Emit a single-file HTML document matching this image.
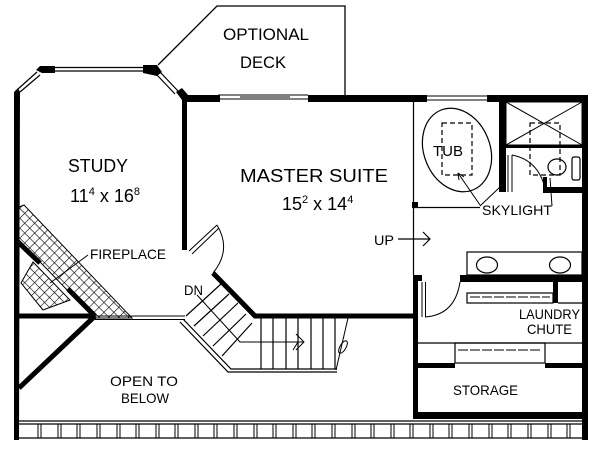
<!DOCTYPE html>
<html><head><meta charset="utf-8"><style>
html,body{margin:0;padding:0;background:#fff;}
svg{display:block;}
text{font-family:"Liberation Sans",sans-serif;fill:#000;}
</style></head><body>
<svg width="600" height="452" viewBox="0 0 600 452" xmlns="http://www.w3.org/2000/svg">
<defs>
<pattern id="hatch" width="7" height="7" patternUnits="userSpaceOnUse" patternTransform="rotate(45)">
<rect width="7" height="7" fill="#fff"/>
<path d="M0 0H7M0 0V7" stroke="#000" stroke-width="1.2"/>
</pattern>
</defs>
<g fill="none" stroke="#000">
<polyline points="158,65 217,6 345,6 345,95" stroke-width="1.3"/>
<path d="M55,67.5H143M55,71H143" stroke-width="1.2"/>
<path d="M37,72L18,89M40,75L20,92" stroke-width="1.2"/>
<path d="M160,72L178,91M157,75L175,94" stroke-width="1.2"/>
<path d="M218,95H308M218,99H308M240,97H290" stroke-width="1"/>
<path d="M427,96H487M427,100H487" stroke-width="1"/>
</g>
<g fill="#000">
<polygon points="40,66 55,66 55,73 42,73 36,70"/>
<polygon points="143,65 157,65 162,72 157,76 143,73"/>
<polygon points="176,92 182,88 188,95 220,95 220,102 187,102 187,250 182,250 182,100"/>
<rect x="308" y="95" width="119" height="7"/>
<rect x="487" y="95" width="101" height="7"/>
<polygon points="14,92 18,88 20,92 19,440 14,440"/>
<rect x="582" y="95" width="6" height="345"/>
</g>
<g fill="none" stroke="#000">
<line x1="413.5" y1="102" x2="413.5" y2="275" stroke-width="1.2"/>
<line x1="413" y1="207.5" x2="480" y2="207.5" stroke-width="1.2"/>
<line x1="480" y1="206" x2="500" y2="187" stroke-width="1"/>
<rect x="506" y="102" width="76" height="43" stroke-width="1"/>
<path d="M506,102L582,145M582,102L506,145" stroke-width="1"/>
<ellipse cx="457" cy="150" rx="33" ry="43" transform="rotate(-22 457 150)" stroke-width="1.2"/>
<rect x="442" y="123" width="30" height="52" stroke-dasharray="5,3" stroke-width="1.2"/>
<rect x="530" y="123" width="30" height="52" stroke-dasharray="5,3" stroke-width="1.2"/>
<ellipse cx="557" cy="167" rx="9" ry="8" stroke-width="1.2"/>
<rect x="572" y="157" width="8" height="23" rx="2" stroke-width="1.2"/>
<path d="M508,155V192M512,155V192" stroke-width="1"/>
<path d="M512,155Q538,160 545,188" stroke-width="1"/>
<path d="M480,205L458,173" stroke-width="1"/>
<path d="M458,173l1,7M458,173l6,4" stroke-width="1"/>
<path d="M552,206L550,178" stroke-width="1"/>
<path d="M398,239H429M423,232L430,239L423,246" stroke-width="1.2"/>
</g>
<g fill="#000">
<rect x="499" y="102" width="7" height="90"/>
<rect x="506" y="145" width="76" height="3"/>
<rect x="543" y="187" width="39" height="6"/>
<rect x="543" y="177" width="4" height="16"/>
<rect x="412" y="202" width="6" height="6"/>
</g>
<text x="433" y="156" font-size="15" textLength="30" lengthAdjust="spacingAndGlyphs">TUB</text>
<text x="482" y="215" font-size="14" textLength="70" lengthAdjust="spacingAndGlyphs">SKYLIGHT</text>
<text x="374" y="245" font-size="14" textLength="20" lengthAdjust="spacingAndGlyphs">UP</text>
<g fill="none" stroke="#000" stroke-width="1.2">
<rect x="467" y="252" width="115" height="23"/>
<ellipse cx="487" cy="265" rx="10.5" ry="8"/>
<ellipse cx="560" cy="265" rx="10.5" ry="8"/>
<rect x="467" y="293" width="86" height="10"/>
<line x1="470" y1="297" x2="550" y2="297" stroke-dasharray="10,2" stroke-width="1"/>
<line x1="558" y1="303" x2="582" y2="303"/>
<path d="M422,282V317M425.5,282V317" stroke-width="1"/>
<path d="M425,317Q455,315 460,282" stroke-width="1"/>
<line x1="418" y1="343" x2="582" y2="343"/>
<rect x="455" y="343" width="90" height="20"/>
<line x1="458" y1="350" x2="542" y2="350" stroke-dasharray="10,2" stroke-width="1"/>
</g>
<g fill="#000">
<rect x="460" y="275" width="122" height="7"/>
<rect x="553" y="282" width="5" height="21"/>
<rect x="413" y="275" width="9" height="6"/>
<rect x="413" y="275" width="5" height="144"/>
<rect x="418" y="363" width="37" height="5"/>
<rect x="545" y="363" width="37" height="5"/>
<rect x="413" y="412" width="175" height="7"/>
</g>
<text x="519" y="319" font-size="14" textLength="61" lengthAdjust="spacingAndGlyphs">LAUNDRY</text>
<text x="527" y="334" font-size="14" textLength="45" lengthAdjust="spacingAndGlyphs">CHUTE</text>
<text x="453" y="395" font-size="14" textLength="65" lengthAdjust="spacingAndGlyphs">STORAGE</text>
<polygon points="19,207 24,205 132,318 94,318 19,240" fill="url(#hatch)" stroke="#000" stroke-width="1"/>
<polygon points="33,262 21,283 43,310 70,300" fill="url(#hatch)" stroke="#000" stroke-width="1"/>
<g fill="none" stroke="#000">
<line x1="19" y1="243" x2="40" y2="263" stroke-width="5"/>
<line x1="68" y1="289" x2="95" y2="316" stroke-width="5"/>
<line x1="19" y1="316" x2="95" y2="316" stroke-width="5"/>
<line x1="95" y1="316" x2="19" y2="388" stroke-width="5"/>
<line x1="88" y1="255" x2="50" y2="283" stroke-width="1"/>
<path d="M95,316H185M95,319.5H185" stroke-width="1"/>
<path d="M189,251L217,225M192,254L219,228" stroke-width="1"/>
<path d="M217,225Q232,250 213,273" stroke-width="1"/>
<polyline points="213,273 255,316 413,316" stroke-width="5"/>
<polyline points="183,319 231,369 337,369" stroke-width="1.2"/>
<polyline points="180,322 228,372 337,372" stroke-width="1.2"/>
<path d="M186,316L221,284M194,326L229,294M203,336L238,303M213,346L246,314M222,356L252,323" stroke-width="1.2"/>
<path d="M261,318V369M273,318V369M286,318V369M298,318V369M311,318V369M323,318V369M335,318V369" stroke-width="1.2"/>
<line x1="348" y1="318" x2="336" y2="370" stroke-width="1"/>
<polyline points="197,295 240,342 303,342" stroke-width="1"/>
<path d="M296,334L304,342L296,350M298,342l-5,8" stroke-width="1"/>
<ellipse cx="343" cy="347" rx="3" ry="7" transform="rotate(30 343 347)" stroke-width="1"/>
<path d="M19,421H582M19,424H582M19,438H582" stroke-width="1.2"/>
</g>
<g stroke="#000" stroke-width="1">
<path d="M38,424V438M41,424V438M58,424V438M61,424V438M77,424V438M80,424V438M97,424V438M100,424V438M117,424V438M120,424V438M136,424V438M139,424V438M156,424V438M159,424V438M175,424V438M178,424V438M195,424V438M198,424V438M214,424V438M217,424V438M234,424V438M237,424V438M254,424V438M257,424V438M273,424V438M276,424V438M293,424V438M296,424V438M312,424V438M315,424V438M332,424V438M335,424V438M352,424V438M355,424V438M371,424V438M374,424V438M391,424V438M394,424V438M410,424V438M413,424V438M430,424V438M433,424V438M449,424V438M452,424V438M469,424V438M472,424V438M489,424V438M492,424V438M508,424V438M511,424V438M528,424V438M531,424V438M548,424V438M551,424V438M567,424V438M570,424V438"/>
</g>
<text x="223" y="40" font-size="17" textLength="86" lengthAdjust="spacingAndGlyphs">OPTIONAL</text>
<text x="240" y="68" font-size="17" textLength="46" lengthAdjust="spacingAndGlyphs">DECK</text>
<text x="68" y="172" font-size="18" textLength="60" lengthAdjust="spacingAndGlyphs">STUDY</text>
<text x="70" y="202" font-size="18">11<tspan font-size="11" dy="-7">4</tspan><tspan dy="7"> x 16</tspan><tspan font-size="11" dy="-7">8</tspan></text>
<text x="240" y="182" font-size="18" textLength="148" lengthAdjust="spacingAndGlyphs">MASTER  SUITE</text>
<text x="282" y="210" font-size="18">15<tspan font-size="11" dy="-7">2</tspan><tspan dy="7"> x 14</tspan><tspan font-size="11" dy="-7">4</tspan></text>
<text x="90" y="259" font-size="14" textLength="76" lengthAdjust="spacingAndGlyphs">FIREPLACE</text>
<text x="184" y="295" font-size="14" textLength="19" lengthAdjust="spacingAndGlyphs">DN</text>
<text x="110" y="386" font-size="14" textLength="68" lengthAdjust="spacingAndGlyphs">OPEN  TO</text>
<text x="121" y="403" font-size="14" textLength="48" lengthAdjust="spacingAndGlyphs">BELOW</text>
</svg>
</body></html>
